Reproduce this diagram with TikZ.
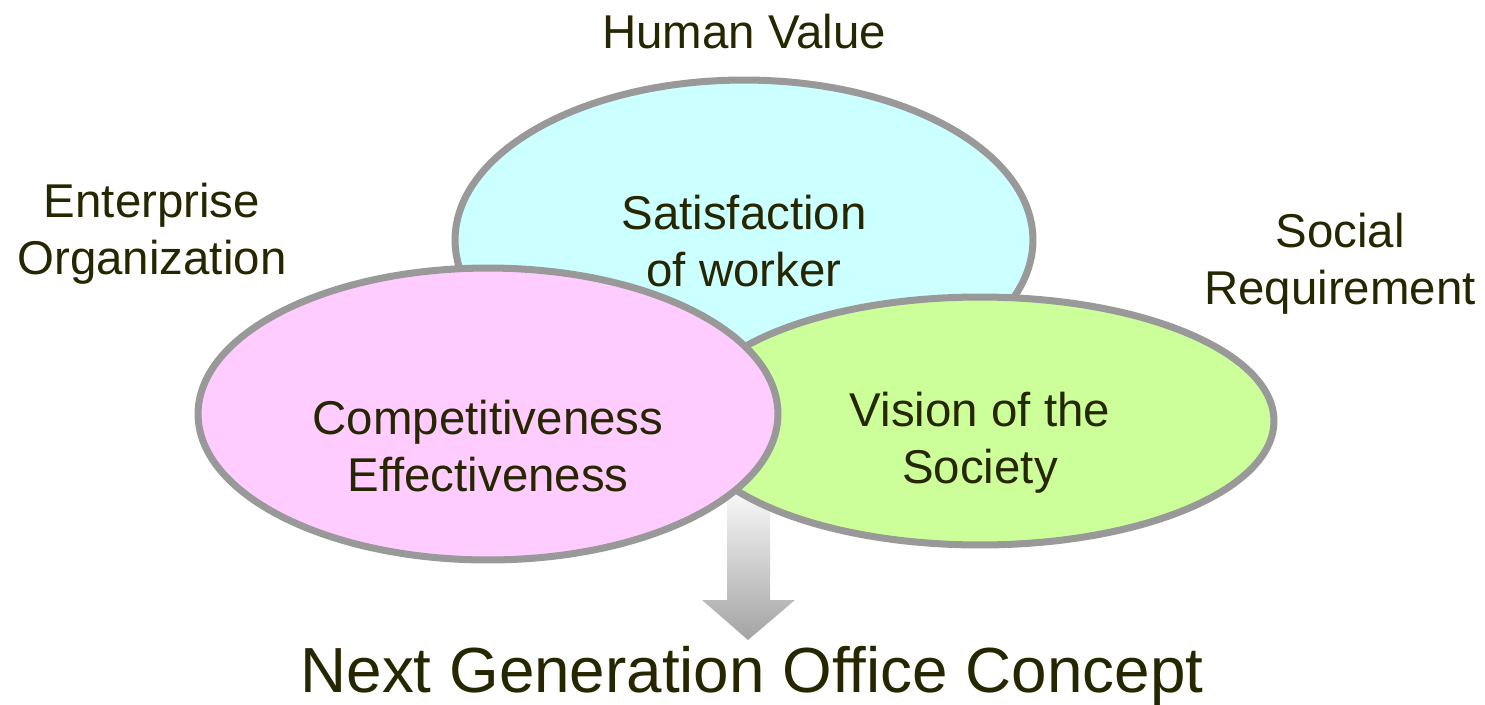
\documentclass[tikz,border=0pt]{standalone}
\usepackage{fontspec}
\setmainfont{Liberation Sans}
\usepackage{tikz}
\usetikzlibrary{shapes.geometric}
\definecolor{rimgray}{RGB}{153,153,153}
\definecolor{txtolive}{RGB}{38,38,0}
\definecolor{skyfill}{RGB}{204,255,255}
\definecolor{pinkfill}{RGB}{255,204,255}
\definecolor{limefill}{RGB}{204,255,153}
\tikzset{blob/.style = {ellipse,draw=rimgray,line width=4pt,inner sep=0pt}}

\begin{document}
\begin{tikzpicture}[x=0.02cm,y=-0.02cm,txt/.style={text=txtolive,align=center,font=\fontsize{27}{32.4}\selectfont}]
                \useasboundingbox (0,0) rectangle (1485,704);
                % arrow down to the concept
                \shade[top color=white,bottom color=rimgray!90] (727,480) -- (770,480) -- (770,600) -- (795,600)
                        -- (748,640) -- (702,600) -- (727,600) -- cycle;
                % the three circles
                \node[blob, fill=skyfill, minimum width=11.56cm, minimum height=6.4cm] (human) at (744,240) {};
                \node[blob, fill=limefill, minimum width=11.76cm, minimum height=4.96cm] (society) at (980,421) {};
                \node[blob, fill=pinkfill, minimum width=11.6cm, minimum height=5.84cm] (enterprise) at (488,414) {};

                \node[txt] (t1) at (744,241) {Satisfaction\\of worker};
                \node[txt] (t2) at (488,446) {Competitiveness\\Effectiveness};
                \node[txt] (t3) at (980,443) {Vision of the\\Society};

                \node[txt] (h) at (744,32) {Human Value};
                \node[txt] (e) at (152,234) {Enterprise\\Organization};
                \node[txt] (s) at (1340,264) {Social\\Requirement};

                \node[txt, font=\fontsize{36.3}{40}\selectfont] (concept) at (752,676) {Next Generation Office Concept};
\end{tikzpicture}
\end{document}
